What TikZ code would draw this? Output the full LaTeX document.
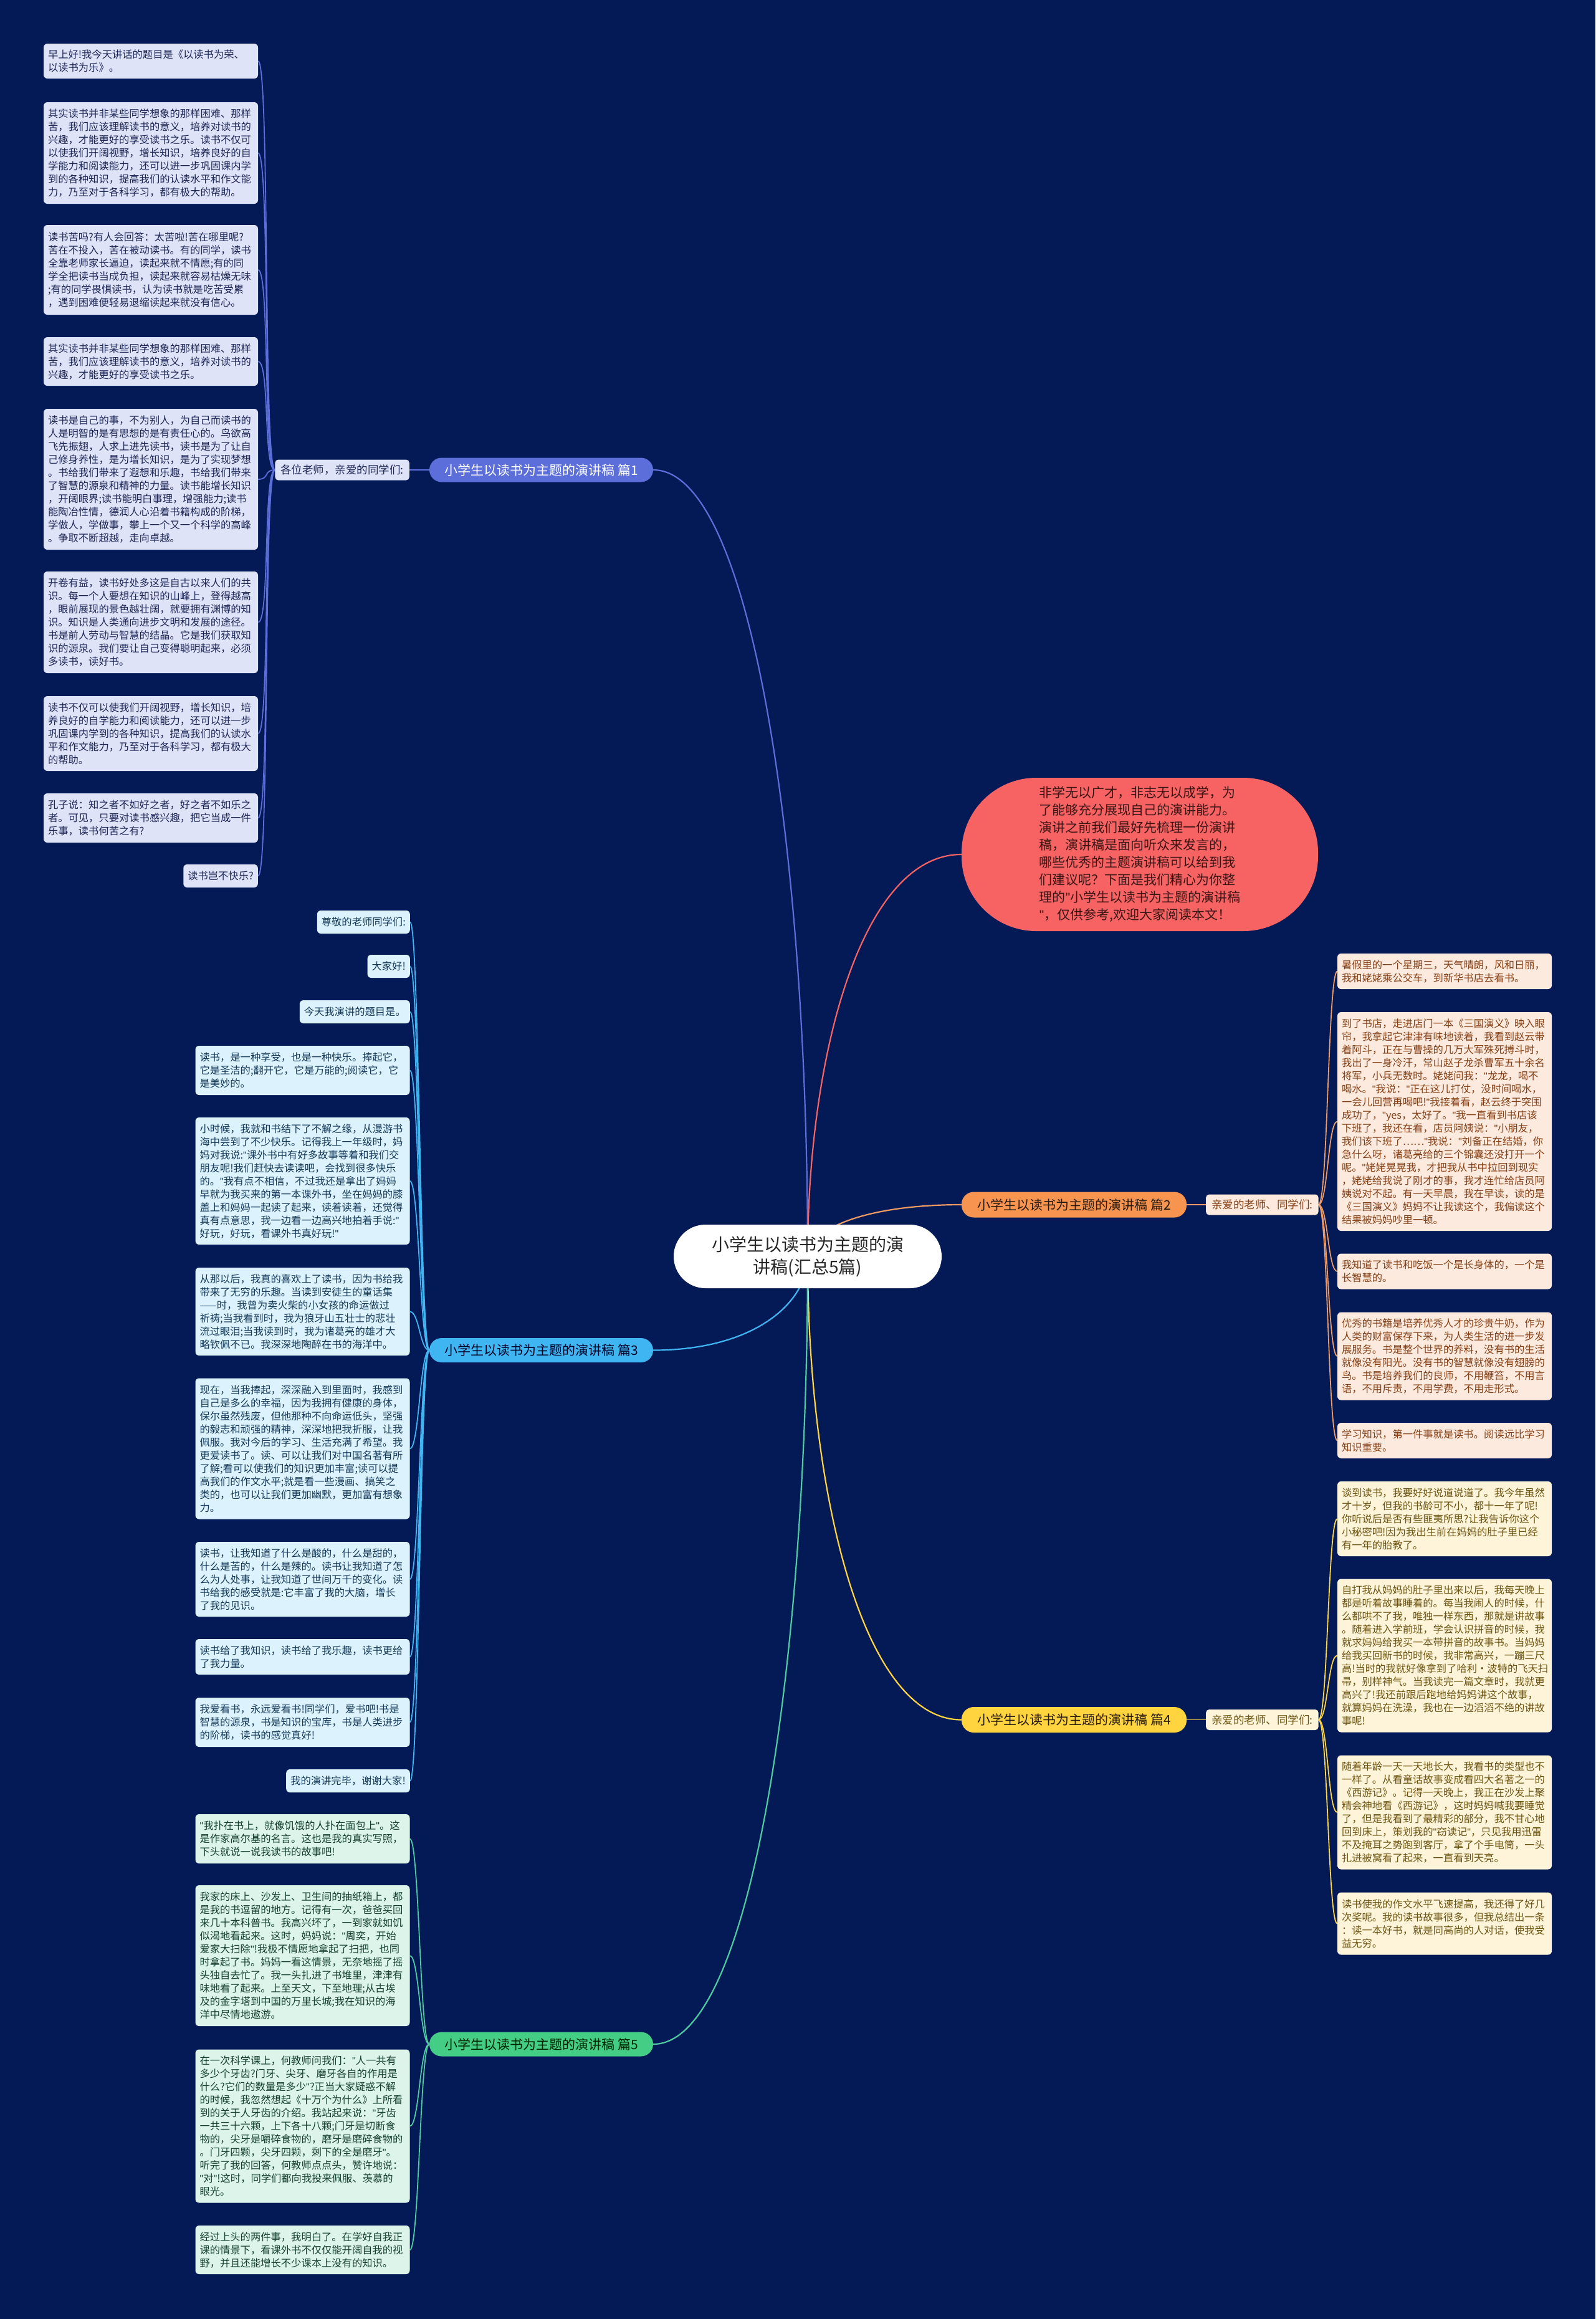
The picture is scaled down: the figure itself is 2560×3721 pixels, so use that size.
\documentclass[tikz,border=0pt]{standalone}
\usepackage{fontspec}
\setmainfont{Noto Sans CJK SC}
\newfontfamily\qfont{Liberation Sans}
\newcommand{\q}{{\qfont"}}
\usetikzlibrary{calc}
\pgfdeclarelayer{edges}
\pgfsetlayers{edges,main}
\definecolor{bgc}{HTML}{031A56}
\definecolor{cone}{HTML}{5B6ED9}
\definecolor{cintro}{HTML}{F76363}
\definecolor{ctwo}{HTML}{F79550}
\definecolor{ctwoline}{HTML}{EE9A62}
\definecolor{cthree}{HTML}{3FB6F2}
\definecolor{cfour}{HTML}{FFD43F}
\definecolor{cfive}{HTML}{43CD85}
\definecolor{cfiveline}{HTML}{4ECBA0}
\definecolor{fone}{HTML}{DFE3F7}
\definecolor{tone}{HTML}{1D2757}
\definecolor{fthree}{HTML}{DCF2FC}
\definecolor{tthree}{HTML}{14395A}
\definecolor{ffive}{HTML}{DDF4EA}
\definecolor{tfive}{HTML}{14402F}
\definecolor{ftwo}{HTML}{FDEADF}
\definecolor{ttwo}{HTML}{853F14}
\definecolor{ffour}{HTML}{FDF4D9}
\definecolor{tfour}{HTML}{6E5410}
\definecolor{tintro}{HTML}{3A1515}
\newcommand{\leaffont}{\fontsize{16.3}{21}\selectfont}
\newcommand{\mainlink}[3]{\draw[mainln, #1] (#2) .. controls ($(#2)!0.65!(#2 -| #3)$) and ($(#3)!0.5!(#3 |- #2)$) .. (#3);}
\tikzset{
  leafbox/.style={rounded corners=6pt, inner xsep=7pt, inner ysep=0pt, align=left, font=\leaffont},
  widebox/.style={leafbox, text width=330pt},
  shortbox/.style={leafbox, minimum height=37pt},
  lone/.style={fill=fone, text=tone},
  lthree/.style={fill=fthree, text=tthree},
  lfive/.style={fill=ffive, text=tfive},
  ltwo/.style={fill=ftwo, text=ttwo},
  lfour/.style={fill=ffour, text=tfour},
  branchbox/.style={rounded corners=19.5pt, minimum width=359pt, minimum height=39pt, inner sep=0pt, font=\fontsize{21}{24}\selectfont},
  subbox/.style={rounded corners=5pt, minimum height=33pt, inner xsep=9pt, inner ysep=0pt, font=\fontsize{17.5}{20}\selectfont},
  mainln/.style={line width=2.2pt},
  leafln/.style={line width=1.8pt},
}
\begin{document}
\begin{tikzpicture}[x=1pt,y=-1pt]
\begin{pgfonlayer}{edges}
\fill[bgc] (0,0) rectangle (2560,3721);
\end{pgfonlayer}
\useasboundingbox (0,0) rectangle (2560,3721);

% centre
\node[fill=white, text=black!85, rounded corners=51pt, minimum width=430pt, minimum height=102pt, inner sep=0pt, align=center, font=\fontsize{28}{36}\selectfont] (ctr) at (1296,2016) {小学生以读书为主题的演\\讲稿(汇总5篇)};

% intro
\node[fill=cintro, text=tintro, rounded corners=120pt, minimum width=572pt, minimum height=246pt, inner sep=0pt, align=left, font=\fontsize{21}{28}\selectfont] (intro) at (1829,1371) {非学无以广才，非志无以成学，为\\了能够充分展现自己的演讲能力。\\演讲之前我们最好先梳理一份演讲\\稿，演讲稿是面向听众来发言的，\\哪些优秀的主题演讲稿可以给到我\\们建议呢？下面是我们精心为你整\\理的\q{}小学生以读书为主题的演讲稿\\\q{}，仅供参考,欢迎大家阅读本文！};

% branches
\node[branchbox, fill=cone, text=white] (B1) at (868.5,754) {小学生以读书为主题的演讲稿 篇1};
\node[branchbox, fill=ctwo, text=black!80!brown, minimum width=361pt, minimum height=41pt] (B2) at (1723.5,1933) {小学生以读书为主题的演讲稿 篇2};
\node[branchbox, fill=cthree, text=black!85!blue] (B3) at (868.5,2166.5) {小学生以读书为主题的演讲稿 篇3};
\node[branchbox, fill=cfour, text=black!80!brown, minimum width=361pt, minimum height=41pt] (B4) at (1723.5,2759.5) {小学生以读书为主题的演讲稿 篇4};
\node[branchbox, fill=cfive, text=black!85!green] (B5) at (868.5,3280) {小学生以读书为主题的演讲稿 篇5};

% sub labels
\node[subbox, lone, anchor=east] (s1) at (657,754) {各位老师，亲爱的同学们:};
\node[subbox, ltwo, anchor=west] (s2) at (1935,1933) {亲爱的老师、同学们:};
\node[subbox, lfour, anchor=west] (s4) at (1935,2759.5) {亲爱的老师、同学们:};

% section 1 leaves
\node[widebox, lone, minimum height=56pt] (a1) at (242,98) {早上好!我今天讲话的题目是《以读书为荣、\\以读书为乐》。};
\node[widebox, lone, minimum height=163pt] (a2) at (242,245.5) {其实读书并非某些同学想象的那样困难、那样\\苦，我们应该理解读书的意义，培养对读书的\\兴趣，才能更好的享受读书之乐。读书不仅可\\以使我们开阔视野，增长知识，培养良好的自\\学能力和阅读能力，还可以进一步巩固课内学\\到的各种知识，提高我们的认读水平和作文能\\力，乃至对于各科学习，都有极大的帮助。};
\node[widebox, lone, minimum height=144pt] (a3) at (242,433) {读书苦吗?有人会回答：太苦啦!苦在哪里呢?\\苦在不投入，苦在被动读书。有的同学，读书\\全靠老师家长逼迫，读起来就不情愿;有的同\\学全把读书当成负担，读起来就容易枯燥无味\\;有的同学畏惧读书，认为读书就是吃苦受累\\，遇到困难便轻易退缩读起来就没有信心。};
\node[widebox, lone, minimum height=78pt] (a4) at (242,580) {其实读书并非某些同学想象的那样困难、那样\\苦，我们应该理解读书的意义，培养对读书的\\兴趣，才能更好的享受读书之乐。};
\node[widebox, lone, minimum height=226pt] (a5) at (242,769) {读书是自己的事，不为别人，为自己而读书的\\人是明智的是有思想的是有责任心的。鸟欲高\\飞先振翅，人求上进先读书，读书是为了让自\\己修身养性，是为增长知识，是为了实现梦想\\。书给我们带来了遐想和乐趣，书给我们带来\\了智慧的源泉和精神的力量。读书能增长知识\\，开阔眼界;读书能明白事理，增强能力;读书\\能陶冶性情，德润人心沿着书籍构成的阶梯，\\学做人，学做事，攀上一个又一个科学的高峰\\。争取不断超越，走向卓越。};
\node[widebox, lone, minimum height=163pt] (a6) at (242,998.5) {开卷有益，读书好处多这是自古以来人们的共\\识。每一个人要想在知识的山峰上，登得越高\\，眼前展现的景色越壮阔，就要拥有渊博的知\\识。知识是人类通向进步文明和发展的途径。\\书是前人劳动与智慧的结晶。它是我们获取知\\识的源泉。我们要让自己变得聪明起来，必须\\多读书，读好书。};
\node[widebox, lone, minimum height=120pt] (a7) at (242,1177) {读书不仅可以使我们开阔视野，增长知识，培\\养良好的自学能力和阅读能力，还可以进一步\\巩固课内学到的各种知识，提高我们的认读水\\平和作文能力，乃至对于各科学习，都有极大\\的帮助。};
\node[widebox, lone, minimum height=79pt] (a8) at (242,1312.5) {孔子说：知之者不如好之者，好之者不如乐之\\者。可见，只要对读书感兴趣，把它当成一件\\乐事，读书何苦之有?};
\node[shortbox, lone, anchor=east] (a9) at (414,1405.5) {读书岂不快乐?};

% section 3 leaves
\node[shortbox, lthree, anchor=east] (b1) at (658,1479.5) {尊敬的老师同学们:};
\node[shortbox, lthree, anchor=east] (b2) at (658,1550.5) {大家好!};
\node[shortbox, lthree, anchor=east] (b3) at (658,1623.5) {今天我演讲的题目是。};
\node[widebox, lthree, minimum height=79pt] (b4) at (485.5,1717.5) {读书，是一种享受，也是一种快乐。捧起它，\\它是圣洁的;翻开它，它是万能的;阅读它，它\\是美妙的。};
\node[widebox, lthree, minimum height=204pt] (b5) at (485.5,1895) {小时候，我就和书结下了不解之缘，从漫游书\\海中尝到了不少快乐。记得我上一年级时，妈\\妈对我说:\q{}课外书中有好多故事等着和我们交\\朋友呢!我们赶快去读读吧，会找到很多快乐\\的。\q{}我有点不相信，不过我还是拿出了妈妈\\早就为我买来的第一本课外书，坐在妈妈的膝\\盖上和妈妈一起读了起来，读着读着，还觉得\\真有点意思，我一边看一边高兴地拍着手说:\q{}\\好玩，好玩，看课外书真好玩!\q{}};
\node[widebox, lthree, minimum height=141pt] (b6) at (485.5,2104.5) {从那以后，我真的喜欢上了读书，因为书给我\\带来了无穷的乐趣。当读到安徒生的童话集\\——时，我曾为卖火柴的小女孩的命运做过\\祈祷;当我看到时，我为狼牙山五壮士的悲壮\\流过眼泪;当我读到时，我为诸葛亮的雄才大\\略钦佩不已。我深深地陶醉在书的海洋中。};
\node[widebox, lthree, minimum height=226pt] (b7) at (485.5,2324.5) {现在，当我捧起，深深融入到里面时，我感到\\自己是多么的幸福，因为我拥有健康的身体，\\保尔虽然残废，但他那种不向命运低头，坚强\\的毅志和顽强的精神，深深地把我折服，让我\\佩服。我对今后的学习、生活充满了希望。我\\更爱读书了。读、可以让我们对中国名著有所\\了解;看可以使我们的知识更加丰富;读可以提\\高我们的作文水平;就是看一些漫画、搞笑之\\类的，也可以让我们更加幽默，更加富有想象\\力。};
\node[widebox, lthree, minimum height=120pt] (b8) at (485.5,2534) {读书，让我知道了什么是酸的，什么是甜的，\\什么是苦的，什么是辣的。读书让我知道了怎\\么为人处事，让我知道了世间万千的变化。读\\书给我的感受就是:它丰富了我的大脑，增长\\了我的见识。};
\node[widebox, lthree, minimum height=57pt] (b9) at (485.5,2658.5) {读书给了我知识，读书给了我乐趣，读书更给\\了我力量。};
\node[widebox, lthree, minimum height=79pt] (b10) at (485.5,2763.5) {我爱看书，永远爱看书!同学们，爱书吧!书是\\智慧的源泉，书是知识的宝库，书是人类进步\\的阶梯，读书的感觉真好!};
\node[shortbox, lthree, anchor=east] (b11) at (658,2857.5) {我的演讲完毕，谢谢大家!};

% section 5 leaves
\node[widebox, lfive, minimum height=79pt] (c1) at (485.5,2950.5) {\q{}我扑在书上，就像饥饿的人扑在面包上\q{}。这\\是作家高尔基的名言。这也是我的真实写照，\\下头就说一说我读书的故事吧!};
\node[widebox, lfive, minimum height=226pt] (c2) at (485.5,3138) {我家的床上、沙发上、卫生间的抽纸箱上，都\\是我的书逗留的地方。记得有一次，爸爸买回\\来几十本科普书。我高兴坏了，一到家就如饥\\似渴地看起来。这时，妈妈说：\q{}周奕，开始\\爱家大扫除\q{}!我极不情愿地拿起了扫把，也同\\时拿起了书。妈妈一看这情景，无奈地摇了摇\\头独自去忙了。我一头扎进了书堆里，津津有\\味地看了起来。上至天文，下至地理;从古埃\\及的金字塔到中国的万里长城;我在知识的海\\洋中尽情地遨游。};
\node[widebox, lfive, minimum height=246pt] (c3) at (485.5,3411.5) {在一次科学课上，何教师问我们：\q{}人一共有\\多少个牙齿?门牙、尖牙、磨牙各自的作用是\\什么?它们的数量是多少\q{}?正当大家疑惑不解\\的时候，我忽然想起《十万个为什么》上所看\\到的关于人牙齿的介绍。我站起来说：\q{}牙齿\\一共三十六颗，上下各十八颗;门牙是切断食\\物的，尖牙是嚼碎食物的，磨牙是磨碎食物的\\。门牙四颗，尖牙四颗，剩下的全是磨牙\q{}。\\听完了我的回答，何教师点点头，赞许地说：\\\q{}对\q{}!这时，同学们都向我投来佩服、羡慕的\\眼光。};
\node[widebox, lfive, minimum height=78pt] (c4) at (485.5,3610) {经过上头的两件事，我明白了。在学好自我正\\课的情景下，看课外书不仅仅能开阔自我的视\\野，并且还能增长不少课本上没有的知识。};

% section 2 leaves
\node[widebox, ltwo, minimum height=57pt] (d1) at (2318,1558.5) {暑假里的一个星期三，天气晴朗，风和日丽，\\我和姥姥乘公交车，到新华书店去看书。};
\node[widebox, ltwo, minimum height=351pt] (d2) at (2318,1799.5) {到了书店，走进店门一本《三国演义》映入眼\\帘，我拿起它津津有味地读着，我看到赵云带\\着阿斗，正在与曹操的几万大军殊死搏斗时，\\我出了一身冷汗，常山赵子龙杀曹军五十余名\\将军，小兵无数时。姥姥问我：\q{}龙龙，喝不\\喝水。\q{}我说：\q{}正在这儿打仗，没时间喝水，\\一会儿回营再喝吧!\q{}我接着看，赵云终于突围\\成功了，\q{}yes，太好了。\q{}我一直看到书店该\\下班了，我还在看，店员阿姨说：\q{}小朋友，\\我们该下班了……\q{}我说：\q{}刘备正在结婚，你\\急什么呀，诸葛亮给的三个锦囊还没打开一个\\呢。\q{}姥姥晃晃我，才把我从书中拉回到现实\\，姥姥给我说了刚才的事，我才连忙给店员阿\\姨说对不起。有一天早晨，我在早读，读的是\\《三国演义》妈妈不让我读这个，我偏读这个\\结果被妈妈吵里一顿。};
\node[widebox, ltwo, minimum height=57pt] (d3) at (2318,2040) {我知道了读书和吃饭一个是长身体的，一个是\\长智慧的。};
\node[widebox, ltwo, minimum height=141pt] (d4) at (2318,2176) {优秀的书籍是培养优秀人才的珍贵牛奶，作为\\人类的财富保存下来，为人类生活的进一步发\\展服务。书是整个世界的养料，没有书的生活\\就像没有阳光。没有书的智慧就像没有翅膀的\\鸟。书是培养我们的良师，不用鞭笞，不用言\\语，不用斥责，不用学费，不用走形式。};
\node[widebox, ltwo, minimum height=57pt] (d5) at (2318,2311.5) {学习知识，第一件事就是读书。阅读远比学习\\知识重要。};

% section 4 leaves
\node[widebox, lfour, minimum height=120pt] (e1) at (2318,2437) {谈到读书，我要好好说道说道了。我今年虽然\\才十岁，但我的书龄可不小，都十一年了呢!\\你听说后是否有些匪夷所思?让我告诉你这个\\小秘密吧!因为我出生前在妈妈的肚子里已经\\有一年的胎教了。};
\node[widebox, lfour, minimum height=246pt] (e2) at (2318,2656.5) {自打我从妈妈的肚子里出来以后，我每天晚上\\都是听着故事睡着的。每当我闹人的时候，什\\么都哄不了我，唯独一样东西，那就是讲故事\\。随着进入学前班，学会认识拼音的时候，我\\就求妈妈给我买一本带拼音的故事书。当妈妈\\给我买回新书的时候，我非常高兴，一蹦三尺\\高!当时的我就好像拿到了哈利·波特的飞天扫\\帚，别样神气。当我读完一篇文章时，我就更\\高兴了!我还前跟后跑地给妈妈讲这个故事，\\就算妈妈在洗澡，我也在一边滔滔不绝的讲故\\事呢!};
\node[widebox, lfour, minimum height=183pt] (e3) at (2318,2908) {随着年龄一天一天地长大，我看书的类型也不\\一样了。从看童话故事变成看四大名著之一的\\《西游记》。记得一天晚上，我正在沙发上聚\\精会神地看《西游记》，这时妈妈喊我要睡觉\\了，但是我看到了最精彩的部分，我不甘心地\\回到床上，策划我的\q{}窃读记\q{}，只见我用迅雷\\不及掩耳之势跑到客厅，拿了个手电筒，一头\\扎进被窝看了起来，一直看到天亮。};
\node[widebox, lfour, minimum height=100pt] (e4) at (2318,3086.5) {读书使我的作文水平飞速提高，我还得了好几\\次奖呢。我的读书故事很多，但我总结出一条\\：读一本好书，就是同高尚的人对话，使我受\\益无穷。};

% connectors
\begin{pgfonlayer}{edges}
\mainlink{cone}{B1.east}{ctr.center}
\mainlink{cintro}{intro.west}{ctr.center}
\mainlink{ctwoline}{B2.west}{ctr.center}
\mainlink{cthree}{B3.east}{ctr.center}
\mainlink{cfour}{B4.west}{ctr.center}
\mainlink{cfiveline}{B5.east}{ctr.center}
\draw[leafln, cone] (B1.west) -- (s1.east);
\draw[leafln, ctwoline] (B2.east) -- (s2.west);
\draw[leafln, cfour] (B4.east) -- (s4.west);
\foreach \n in {a1,a2,a3,a4,a5,a6,a7,a8,a9}
  \draw[leafln, cone] (s1.west) .. controls +(-19,0) and +(19,0) .. (\n.east);
\foreach \n in {b1,b2,b3,b4,b5,b6,b7,b8,b9,b10,b11}
  \draw[leafln, cthree] (B3.west) .. controls +(-15,0) and +(15,0) .. (\n.east);
\foreach \n in {c1,c2,c3,c4}
  \draw[leafln, cfiveline] (B5.west) .. controls +(-15,0) and +(15,0) .. (\n.east);
\foreach \n in {d1,d2,d3,d4,d5}
  \draw[leafln, ctwoline] (s2.east) .. controls +(15,0) and +(-15,0) .. (\n.west);
\foreach \n in {e1,e2,e3,e4}
  \draw[leafln, cfour] (s4.east) .. controls +(15,0) and +(-15,0) .. (\n.west);
\end{pgfonlayer}
\end{tikzpicture}
\end{document}
